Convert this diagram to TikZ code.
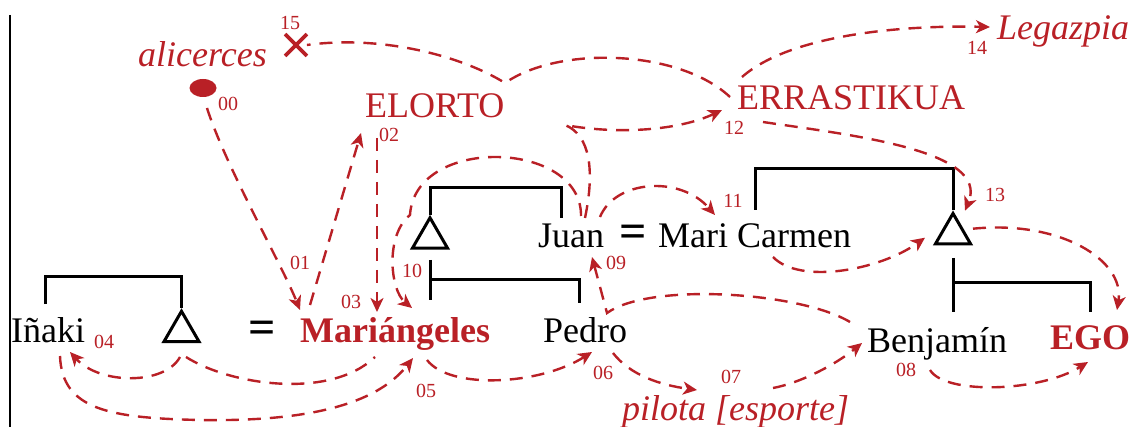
\documentclass[tikz,border=0pt]{standalone}
\usepackage{fontspec}
\setmainfont{Liberation Serif}
\usetikzlibrary{arrows.meta,shapes.geometric,shapes.misc}
\definecolor{rd}{RGB}{185,32,38}
\tikzset{
  person/.style={font=\fontsize{36}{40}\selectfont, inner sep=0pt, anchor=base west},
  rperson/.style={person, text=rd},
  lbl/.style={font=\fontsize{20}{22}\selectfont, text=rd, inner sep=0pt},
  eqs/.style={font=\fontsize{48}{48}\selectfont\bfseries, inner sep=0pt},
  kin/.style={draw, line width=3pt},
  tri/.style={regular polygon, regular polygon sides=3, draw, line width=3pt, minimum size=40.5pt, inner sep=0pt},
  cn/.style={draw=rd, line width=2.4pt, dash pattern=on 13pt off 9pt},
  cna/.style={cn, -{Stealth[length=14pt,width=13pt,inset=4pt]}},
}
\begin{document}
\begin{tikzpicture}[x=1pt,y=-1pt]
\fill[white] (0,0) rectangle (1131,427);
\useasboundingbox (0,0) rectangle (1131,427);
\draw[line width=1.8pt] (10,15) -- (10,427);

% people and places
\node[person] (inaki) at (11,342) {Iñaki};
\node[rperson, font=\fontsize{36}{40}\selectfont\bfseries] (mari) at (300,342) {Mariángeles};
\node[person] (pedro) at (543,342) {Pedro};
\node[person] (juan) at (538,248) {Juan};
\node[person] (mcarmen) at (658,248) {Mari Carmen};
\node[person] (benj) at (867,352) {Benjamín};
\node[rperson, font=\fontsize{36}{40}\selectfont\bfseries] (ego) at (1050,349) {EGO};
\node[rperson] (elorto) at (365,118) {ELORTO};
\node[rperson] (erras) at (737,110) {ERRASTIKUA};
\node[rperson, font=\fontsize{36}{40}\selectfont\itshape] (alic) at (138,67) {alicerces};
\node[rperson, font=\fontsize{36}{40}\selectfont\itshape] (legaz) at (997,40) {Legazpia};
\node[rperson, font=\fontsize{36}{40}\selectfont\itshape] (pilota) at (622,420) {pilota [esporte]};
\node[eqs] (eq1) at (262,332) {=};
\node[eqs] (eq2) at (633,236) {=};

\node[tri] (t1) at (181.5,331.5) {};
\node[tri] (t2) at (430,238) {};
\node[tri] (t3) at (953,233.7) {};

\node[ellipse, fill=rd, inner sep=0pt, minimum width=27pt, minimum height=18pt] (dot) at (203,88) {};
\node[cross out, draw=rd, line width=3.8pt, minimum size=18pt, inner sep=0pt] (x15) at (296,45) {};

% kinship brackets
\draw[kin] ([shift={(34,-38)}]inaki.base west) |- ([shift={(0,-31.5)}]t1.corner 1) -- (t1.corner 1);
\draw[kin] (t2.corner 1) -- ++(0,-27) -| ([shift={(23,-30)}]juan.base west);
\draw[kin] ([shift={(0,22)}]t2.center) -- ([shift={(0,62)}]t2.center);
\draw[kin] ([shift={(0,42)}]t2.center) -| ([shift={(36,-39)}]pedro.base west);
\draw[kin] ([shift={(97,-38)}]mcarmen.base west) |- ([shift={(0,-41.5)}]t3.corner 1) -- (t3.corner 1);
\draw[kin] ([shift={(0,24.3)}]t3.center) -- ([shift={(0,78.3)}]t3.center);
\draw[kin] ([shift={(0,49.3)}]t3.center) -| ([shift={(40,-37)}]ego.base west);

% step numbers
\node[lbl] (n00) at (228,104) {00};
\node[lbl] (n01) at (300,263) {01};
\node[lbl] (n02) at (389,135) {02};
\node[lbl] (n03) at (351,302) {03};
\node[lbl] (n04) at (104,342) {04};
\node[lbl] (n05) at (426,391) {05};
\node[lbl] (n06) at (603,373) {06};
\node[lbl] (n07) at (731,377) {07};
\node[lbl] (n08) at (906,370) {08};
\node[lbl] (n09) at (616,263) {09};
\node[lbl] (n10) at (412,271) {10};
\node[lbl] (n11) at (733,201) {11};
\node[lbl] (n12) at (734,128) {12};
\node[lbl] (n13) at (995,195) {13};
\node[lbl] (n14) at (977,48) {14};
\node[lbl] (n15) at (290,23) {15};

% movements
\draw[cna] ([shift={(4,20)}]dot.center) .. controls (225,165) and (282,265) .. ([shift={(0,-32)}]mari.base west);
\draw[cna] ([shift={(10,-37)}]mari.base west) -- ([shift={(-4,15)}]elorto.base west);
\draw[cna] ([shift={(12,20)}]elorto.base west) -- ([shift={(77,-30)}]mari.base west);
\draw[cna] ([shift={(43,-32)}]juan.base west) .. controls (582,140) and (415,135) .. (410,215) .. controls (385,235) and (390,290) .. ([shift={(112,-34)}]mari.base west);
\draw[cna] ([shift={(47,-30)}]juan.base west) .. controls (595,170) and (590,135) .. (565,125) .. controls (620,135) and (680,130) .. ([shift={(-15,0)}]erras.base west);
\draw[cna] ([shift={(62,-31)}]juan.base west) .. controls (615,180) and (680,175) .. ([shift={(57,-33)}]mcarmen.base west);
\draw[cna] ([shift={(-17,-30)}]benj.base west) .. controls (800,292) and (650,282) .. (607,313) -- ([shift={(54,9)}]juan.base west);
\draw[cna] ([shift={(49,14)}]inaki.base west) .. controls (62,410) and (110,418) .. (200,420) .. controls (320,422) and (380,400) .. ([shift={(113,16)}]mari.base west);
\draw[cna] ([shift={(-1.5,25.5)}]t1.center) .. controls (165,385) and (100,385) .. ([shift={(59,10)}]inaki.base west);
\draw[cn] ([shift={(4.5,25.5)}]t1.center) .. controls (230,385) and (330,400) .. ([shift={(75,15)}]mari.base west);
\draw[cna] ([shift={(127,18)}]mari.base west) .. controls (450,390) and (540,385) .. ([shift={(49,10)}]pedro.base west);
\draw[cna] ([shift={(70,11)}]pedro.base west) .. controls (630,375) and (660,385) .. ([shift={(75,-30)}]pilota.base west);
\draw[cna] ([shift={(151,-32)}]pilota.base west) .. controls (800,383) and (835,365) .. ([shift={(-5,-9)}]benj.base west);
\draw[cna] ([shift={(63,18)}]benj.base west) .. controls (945,395) and (1040,392) .. ([shift={(38,13)}]ego.base west);
\draw[cna] ([shift={(115,9)}]mcarmen.base west) .. controls (800,285) and (880,270) .. ([shift={(-28,4)}]t3.center);
\draw[cna] ([shift={(26,12)}]erras.base west) .. controls (850,135) and (990,150) .. ([shift={(12,-23)}]t3.center);
\draw[cna] ([shift={(20,-5)}]t3.center) .. controls (1060,220) and (1125,260) .. ([shift={(67,-39)}]ego.base west);
\draw[cna] ([shift={(5,-33)}]erras.base west) .. controls (790,35) and (900,25) .. ([shift={(-7,-13)}]legaz.base west);
\draw[cn] ([shift={(-7,-13)}]erras.base west) .. controls (680,50) and (560,45) .. ([shift={(140,-35)}]elorto.base west) .. controls (460,55) and (380,35) .. (x15.east);
\end{tikzpicture}
\end{document}
